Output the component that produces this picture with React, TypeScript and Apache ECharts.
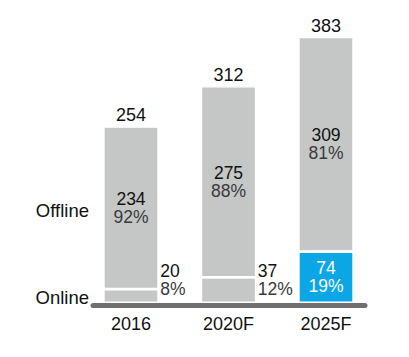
import React, { useEffect, useRef } from "react";
import * as echarts from "echarts";

const categories = ["2016", "2020F", "2025F"];
const totals = [254, 312, 383];
const offline = [234, 275, 309];
const offlinePct = [92, 88, 81];
const online = [20, 37, 74];
const onlinePct = [8, 12, 19];
const rowLabels = ["Offline", "Online"];

const GRAY = "#c5c7c7";
const BLUE = "#0aa6e6";
const FONT = "'Liberation Sans', Arial, Helvetica, sans-serif";

export default function App() {
  const ref = useRef<HTMLDivElement>(null);
  useEffect(() => {
    if (!ref.current) return;
    const chart = echarts.init(ref.current, undefined, { renderer: "svg" });
    const rich = {
      v: { fontSize: 17.5, color: "#111", lineHeight: 18, fontFamily: FONT },
      p: { fontSize: 17.5, color: "#3a3a3a", lineHeight: 18, fontFamily: FONT },
      vw: { fontSize: 17.5, color: "#fff", lineHeight: 18, fontFamily: FONT },
      pw: { fontSize: 17.5, color: "#fff", lineHeight: 18, fontFamily: FONT },
    };
    const onlineData = online.map((v, i) => {
      const last = i === online.length - 1;
      if (last) {
        return {
          value: v,
          itemStyle: { color: BLUE },
          label: {
            show: true,
            position: "inside",
            formatter: `{vw|${v}}\n{pw|${onlinePct[i]}%}`,
            rich,
          },
        };
      }
      return {
        value: v,
        label: {
          show: true,
          position: ["100%", "100%"],
          align: "left",
          verticalAlign: "bottom",
          offset: [1.5, -5],
          formatter: `{v|${v}}\n{p|${onlinePct[i]}%}`,
          rich,
        },
      };
    });
    const BW = 1.4;
    chart.setOption({
      animation: false,
      textStyle: { fontFamily: FONT },
      grid: { left: 82.25, right: 34.25, top: 25, bottom: 54 },
      xAxis: {
        type: "category",
        data: categories,
        axisLine: { show: false },
        axisTick: { show: false },
        axisLabel: { fontSize: 18, color: "#111", margin: 12, fontFamily: FONT },
      },
      yAxis: {
        type: "value",
        min: 0,
        max: 400,
        show: false,
        splitLine: { show: false },
      },
      series: [
        {
          name: "Online",
          type: "bar",
          stack: "s",
          barWidth: 54 + BW,
          itemStyle: { color: GRAY, borderColor: "#fff", borderWidth: BW },
          data: onlineData,
        },
        {
          name: "Offline",
          type: "bar",
          stack: "s",
          barWidth: 54 + BW,
          itemStyle: { color: GRAY, borderColor: "#fff", borderWidth: BW },
          label: {
            show: true,
            position: "inside",
            formatter: (p: any) => `{v|${offline[p.dataIndex]}}\n{p|${offlinePct[p.dataIndex]}%}`,
            rich,
          },
          data: offline,
        },
        {
          name: "Total",
          type: "bar",
          stack: "s",
          barWidth: 54 + BW,
          itemStyle: { color: "transparent" },
          label: {
            show: true,
            position: "top",
            distance: 2,
            fontSize: 18,
            color: "#111",
            fontFamily: FONT,
            formatter: (p: any) => `${totals[p.dataIndex]}`,
          },
          data: totals.map(() => 0),
        },
      ],
      graphic: [
        {
          type: "line",
          shape: { x1: 93, y1: 305.5, x2: 365, y2: 305.5 },
          style: { stroke: "#707070", lineWidth: 5, lineCap: "round" },
          z: 100,
        },
        {
          type: "text",
          x: 89,
          y: 210,
          style: {
            text: rowLabels[0],
            fontSize: 18.5,
            fill: "#111",
            fontFamily: FONT,
            align: "right",
            verticalAlign: "middle",
          },
        },
        {
          type: "text",
          x: 89,
          y: 297.5,
          style: {
            text: rowLabels[1],
            fontSize: 18.5,
            fill: "#111",
            fontFamily: FONT,
            align: "right",
            verticalAlign: "middle",
          },
        },
      ],
    });
    return () => chart.dispose();
  }, []);
  return (
    <div
      ref={ref}
      style={{ position: "fixed", left: 0, top: 0, width: 409, height: 357, background: "#fff" }}
    />
  );
}
